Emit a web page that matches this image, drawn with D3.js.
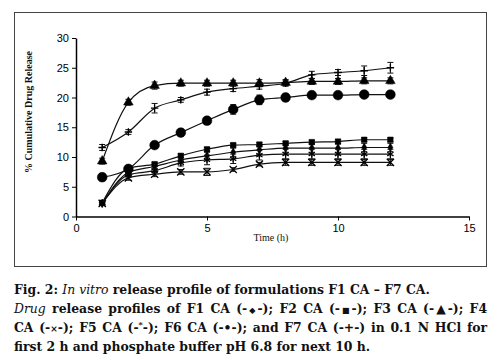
<!DOCTYPE html>
<html>
<head>
<meta charset="utf-8">
<script src="https://cdn.jsdelivr.net/npm/d3@7"></script>
<style>
  body { margin: 0; background: #fff; }
  #wrap { position: relative; width: 500px; height: 361px; overflow: hidden; }
  .cap { position: absolute; left: 14px; width: 473px; white-space: nowrap;
         font-family: "DejaVu Serif", "Liberation Serif", serif; font-weight: bold;
         font-size: 12.4px; color: #111; line-height: 19px; }
  .cap.just { text-align: justify; text-align-last: justify; white-space: normal; }
  .cap i { font-weight: normal; }
</style>
</head>
<body>
<div id="wrap"></div>
<script>
// data
var times = [1, 2, 3, 4, 5, 6, 7, 8, 9, 10, 11, 12];
var f1 = [2.2, 7.4, 8.4, 9.5, 10.2, 10.8, 11.2, 11.5, 11.5, 11.5, 11.6, 11.6];
var f2 = [2.3, 8.1, 8.8, 10.2, 11.3, 12.0, 12.1, 12.3, 12.5, 12.6, 12.9, 12.9];
var f3 = [9.3, 19.2, 22.0, 22.4, 22.4, 22.4, 22.4, 22.5, 22.7, 22.7, 22.8, 22.8];
var f4 = [2.2, 6.5, 7.1, 7.5, 7.5, 7.9, 8.8, 9.1, 9.1, 9.1, 9.1, 9.1];
var f5 = [2.2, 7.0, 7.7, 9.0, 9.5, 9.7, 10.3, 10.5, 10.5, 10.5, 10.5, 10.5];
var f6 = [6.6, 8.0, 12.0, 14.1, 16.1, 18.0, 19.6, 20.0, 20.4, 20.4, 20.5, 20.5];
var f7 = [11.6, 14.2, 18.2, 19.6, 20.9, 21.5, 21.9, 22.4, 23.8, 24.2, 24.5, 25.0];

var e1 = [0.3, 0.4, 0.4, 0.5, 0.6, 0.7, 0.7, 0.7, 0.7, 0.7, 0.7, 0.7];
var e2 = [0.3, 0.3, 0.3, 0.3, 0.3, 0.3, 0.3, 0.3, 0.3, 0.3, 0.3, 0.3];
var e3 = [0.5, 0.5, 0.6, 0.5, 0.5, 0.5, 0.6, 0.5, 0.5, 0.5, 0.5, 0.5];
var e4 = [0.3, 0.4, 0.4, 0.4, 0.6, 0.3, 0.3, 0.5, 0.5, 0.5, 0.5, 0.5];
var e5 = [0.3, 0.4, 0.4, 0.5, 0.8, 0.8, 0.8, 0.8, 0.8, 0.8, 0.8, 0.8];
var e6 = [0.6, 0.4, 0.3, 0.6, 0.4, 0.8, 0.8, 0.6, 0.3, 0.3, 0.5, 0.3];
var e7 = [0.5, 0.4, 0.8, 0.4, 0.5, 0.5, 0.5, 0.5, 0.6, 0.5, 0.8, 0.9];

var xTicks = [0, 5, 10, 15];
var yTicks = [0, 5, 10, 15, 20, 25, 30];

var series = [
  { name: "F1 CA", vals: f1, err: e1, sym: d3.symbolDiamond, size: 22, fill: true },
  { name: "F2 CA", vals: f2, err: e2, sym: d3.symbolSquare, size: 30, fill: true },
  { name: "F3 CA", vals: f3, err: e3, sym: d3.symbolTriangle, size: 40, fill: true },
  { name: "F4 CA", vals: f4, err: e4, sym: d3.symbolX, size: 36, fill: false },
  { name: "F5 CA", vals: f5, err: e5, sym: d3.symbolAsterisk, size: 36, fill: false },
  { name: "F6 CA", vals: f6, err: e6, sym: d3.symbolCircle, size: 75, fill: true },
  { name: "F7 CA", vals: f7, err: e7, sym: d3.symbolPlus, size: 20, fill: false }
];

var wrap = d3.select("#wrap");
var svg = wrap.append("svg").attr("width", 500).attr("height", 361)
  .style("position", "absolute").style("left", 0).style("top", 0);

// frame box
svg.append("rect").attr("x", 14.5).attr("y", 12.5).attr("width", 472).attr("height", 254)
  .attr("fill", "none").attr("stroke", "#444").attr("stroke-width", 1);

var x = d3.scaleLinear().domain([0, 15]).range([76, 469]);
var y = d3.scaleLinear().domain([0, 30]).range([216.5, 38]);

var xAxis = svg.append("g").attr("transform", "translate(0," + y(0) + ")")
  .call(d3.axisBottom(x).tickValues(xTicks).tickSize(4).tickSizeOuter(0).tickPadding(4));
var yAxis = svg.append("g").attr("transform", "translate(" + x(0) + ",0)")
  .call(d3.axisLeft(y).tickValues(yTicks).tickSize(4).tickSizeOuter(0).tickPadding(3));

[xAxis, yAxis].forEach(function(a) {
  a.select(".domain").attr("stroke", "#000").attr("stroke-width", 1.5);
  a.selectAll(".tick line").attr("stroke", "#000").attr("stroke-width", 1);
  a.selectAll("text").attr("fill", "#000")
    .style("font-family", "'Liberation Sans', Arial, sans-serif").style("font-size", "11px");
});

svg.append("text")
  .attr("transform", "translate(32,112) rotate(-90)")
  .attr("text-anchor", "middle")
  .style("font-family", "'Liberation Serif', serif").style("font-weight", "bold")
  .style("font-size", "10px").attr("fill", "#111")
  .text("% Cumulative Drug Release");

svg.append("text")
  .attr("x", 271).attr("y", 241)
  .attr("text-anchor", "middle")
  .style("font-family", "'Liberation Serif', serif")
  .style("font-size", "10px").attr("fill", "#111")
  .text("Time (h)");

var line = d3.line()
  .x(function(d) { return x(d[0]); })
  .y(function(d) { return y(d[1]); })
  .curve(d3.curveMonotoneX);

series.forEach(function(s) {
  var pts = times.map(function(t, i) { return [t, s.vals[i], s.err[i]]; });
  var g = svg.append("g");
  g.append("path").attr("d", line(pts)).attr("fill", "none")
    .attr("stroke", "#111").attr("stroke-width", 1.2);

  var eb = g.selectAll(".eb").data(pts).enter().append("g");
  eb.append("line")
    .attr("x1", function(d) { return x(d[0]); }).attr("x2", function(d) { return x(d[0]); })
    .attr("y1", function(d) { return y(d[1] - d[2]); }).attr("y2", function(d) { return y(d[1] + d[2]); })
    .attr("stroke", "#111").attr("stroke-width", 1);
  [-1, 1].forEach(function(sg) {
    eb.append("line")
      .attr("x1", function(d) { return x(d[0]) - 3; }).attr("x2", function(d) { return x(d[0]) + 3; })
      .attr("y1", function(d) { return y(d[1] + sg * d[2]); }).attr("y2", function(d) { return y(d[1] + sg * d[2]); })
      .attr("stroke", "#111").attr("stroke-width", 1);
  });

  g.selectAll(".m").data(pts).enter().append("path")
    .attr("transform", function(d) { return "translate(" + x(d[0]) + "," + y(d[1]) + ")"; })
    .attr("d", d3.symbol().type(s.sym).size(s.size))
    .attr("fill", s.fill ? "#000" : "none")
    .attr("stroke", "#000").attr("stroke-width", s.fill ? 0.5 : 1.3);
});

// caption
var capLines = [
  { top: 280, just: false, html: "Fig. 2: <i>In vitro</i> release profile of formulations F1 CA \u2013 F7 CA." },
  { top: 299, just: true, html: "<i>Drug</i> release profiles of F1 CA (-<span style='font-size:8px'>\u25c6</span>-); F2 CA (-<span style='font-size:8px'>\u25a0</span>-); F3 CA (-\u25b2-); F4" },
  { top: 318, just: true, html: "CA (-<span style='font-size:9px'>\u00d7</span>-); F5 CA (-<sup style='font-size:8px;line-height:0'>*</sup>-); F6 CA (-\u2022-); and F7 CA (-+-) in 0.1 N HCl for" },
  { top: 337, just: false, html: "first 2 h and phosphate buffer pH 6.8 for next 10 h." }
];
wrap.selectAll(".cap").data(capLines).enter().append("div")
  .attr("class", function(d) { return d.just ? "cap just" : "cap"; })
  .style("top", function(d) { return d.top + "px"; })
  .html(function(d) { return d.html; });
</script>
</body>
</html>
